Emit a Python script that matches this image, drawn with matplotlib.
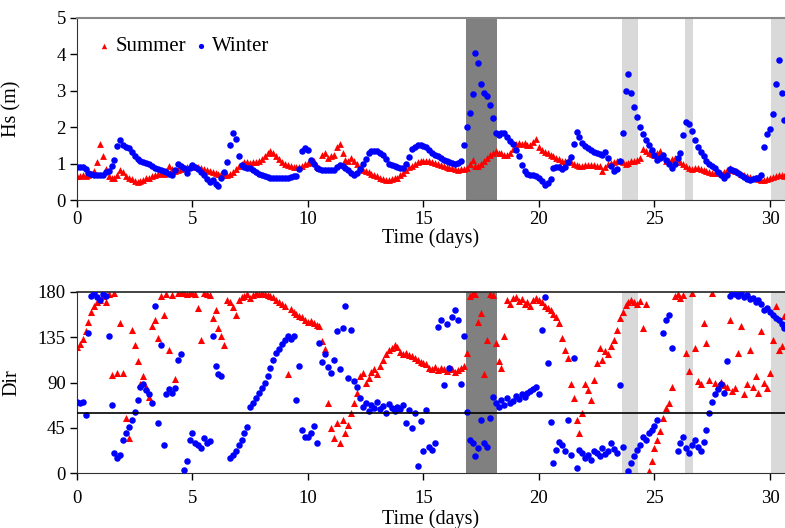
import numpy as np
import matplotlib
matplotlib.use("Agg")
import matplotlib.pyplot as plt

plt.rcParams['font.family'] = ['Liberation Serif', 'DejaVu Serif']

# time step of the readings is 3 hours (0.125 day)
step = 0.125

hs_summer = [
    0.65, 0.65, 0.68, 0.66, 0.70, 0.72, 0.80, 1.05,
    1.55, 1.20, 0.85, 0.65, 0.62, 0.60, 0.70, 0.82,
    0.78, 0.65, 0.60, 0.58, 0.52, 0.50, 0.52, 0.55,
    0.60, 0.62, 0.66, 0.68, 0.72, 0.74, 0.72, 0.80,
    0.95, 0.85, 0.80, 0.82, 0.85, 0.88, 0.92, 0.95,
    0.95, 0.92, 0.90, 0.88, 0.86, 0.83, 0.80, 0.78,
    0.75, 0.72, 0.72, 0.70, 0.70, 0.72, 0.78, 0.85,
    0.95, 1.00, 1.05, 1.05, 1.02, 1.05, 1.05, 1.08,
    1.12, 1.20, 1.28, 1.35, 1.30, 1.22, 1.12, 1.05,
    1.00, 0.97, 0.95, 0.92, 0.92, 0.90, 0.95, 1.00,
    1.02, 1.05, 1.06, 0.95, 0.88, 1.25, 1.30, 1.15,
    1.20, 1.25, 1.45, 1.55, 1.30, 1.10, 1.08, 1.15,
    1.08, 1.00, 0.88, 0.82, 0.80, 0.76, 0.72, 0.68,
    0.65, 0.62, 0.58, 0.55, 0.55, 0.58, 0.60, 0.62,
    0.68, 0.75, 0.82, 0.90, 0.95, 1.00, 1.05, 1.06,
    1.06, 1.06, 1.06, 1.05, 1.02, 0.98, 0.96, 0.93,
    0.92, 0.88, 0.88, 0.85, 0.83, 0.85, 0.86, 0.88,
    1.00, 1.10, 0.95, 0.95, 1.00, 1.06, 1.15, 1.25,
    1.30, 1.34, 1.30, 1.28, 1.25, 1.25, 1.28, 1.40,
    1.55, 1.58, 1.55, 1.58, 1.50, 1.52, 1.60, 1.68,
    1.45, 1.38, 1.32, 1.28, 1.25, 1.20, 1.15, 1.12,
    1.08, 1.06, 1.06, 1.05, 1.00, 0.97, 0.93, 0.95,
    0.96, 0.97, 0.97, 0.96, 0.95, 0.93, 0.80, 0.90,
    1.00, 1.02, 1.04, 1.06, 1.06, 1.04, 1.00, 1.02,
    1.06, 1.08, 1.10, 1.15, 1.40, 1.35, 1.30, 1.26,
    1.25, 1.30, 1.34, 1.20, 1.06, 1.08, 1.12, 1.15,
    1.12, 1.05, 1.00, 0.95, 0.88, 0.86, 0.88, 0.88,
    0.85, 0.83, 0.80, 0.77, 0.74, 0.74, 0.74, 0.74,
    0.76, 0.82, 0.88, 0.84, 0.79, 0.76, 0.72, 0.68,
    0.65, 0.63, 0.61, 0.60, 0.58, 0.56, 0.55, 0.57,
    0.60, 0.63, 0.67, 0.69, 0.68, 0.67,
]

hs_winter = [
    0.90, 0.90, 0.90, 0.85, 0.75, 0.72, 0.70, 0.70,
    0.70, 0.70, 0.76, 0.80, 0.93, 1.10, 1.48, 1.65,
    1.50, 1.45, 1.42, 1.32, 1.22, 1.12, 1.06, 1.04,
    1.02, 1.00, 0.95, 0.88, 0.85, 0.83, 0.80, 0.76,
    0.73, 0.70, 0.82, 1.00, 0.95, 0.87, 0.75, 0.88,
    0.97, 0.92, 0.86, 0.78, 0.70, 0.58, 0.50, 0.55,
    0.45, 0.38, 0.62, 0.78, 1.05, 1.50, 1.85, 1.68,
    1.20, 0.97, 0.90, 0.88, 0.88, 0.84, 0.76, 0.72,
    0.68, 0.65, 0.63, 0.62, 0.60, 0.60, 0.60, 0.60,
    0.60, 0.61, 0.63, 0.65, 0.65, 0.85, 1.35, 1.42,
    1.38, 1.10, 0.98, 0.88, 0.85, 0.83, 0.83, 0.83,
    0.83, 0.84, 0.92, 0.97, 0.93, 0.89, 0.82, 0.75,
    0.69, 0.75, 0.85, 0.98, 1.12, 1.30, 1.34, 1.34,
    1.34, 1.30, 1.25, 1.12, 1.00, 0.97, 0.95, 0.92,
    0.88, 0.88, 1.00, 1.18, 1.40, 1.45, 1.50, 1.50,
    1.48, 1.45, 1.38, 1.30, 1.25, 1.20, 1.15, 1.10,
    1.06, 1.04, 1.02, 1.00, 1.02, 1.06, 1.50, 2.00,
    2.40, 2.90, 4.05, 3.75, 3.20, 2.95, 2.85, 2.60,
    2.25, 1.85, 1.80, 1.84, 1.83, 1.74, 1.62, 1.53,
    1.38, 1.22, 0.97, 0.80, 0.73, 0.70, 0.69, 0.66,
    0.60, 0.52, 0.42, 0.48, 0.58, 0.88, 0.92, 0.90,
    0.85, 0.92, 1.05, 1.18, 1.55, 1.88, 1.72, 1.58,
    1.48, 1.42, 1.38, 1.33, 1.30, 1.27, 1.25, 1.32,
    1.15, 0.95, 0.80, 0.86, 1.06, 1.85, 3.00, 3.45,
    2.95, 2.55, 2.28, 2.00, 1.82, 1.66, 1.50, 1.38,
    1.25, 1.10, 1.15, 1.24, 1.10, 0.98, 0.88, 1.00,
    1.15, 1.30, 1.80, 2.15, 2.10, 1.90, 1.65, 1.45,
    1.32, 1.20, 1.07, 1.00, 0.95, 0.88, 0.78, 0.70,
    0.62, 0.70, 0.86, 0.84, 0.80, 0.75, 0.68, 0.63,
    0.58, 0.55, 0.57, 0.60, 0.62, 0.68, 1.45, 1.82,
    1.94, 2.35, 3.20, 3.85, 2.95, 2.20,
]

nan = np.nan
dir_summer = [
    125, 128, 133, 141, 150, 160, 166, 170,
    172, 176, 170, 178, 97, 179, 99, 149,
    99, 55, 35, 142, 127, 111, 89, 96,
    86, 76, 146, 152, 134, 176, 157, 178,
    122, 177, 94, 179, 179, 179, 178, 179,
    179, 178, 164, 132, 179, 178, 177, 154,
    162, 144, 136, 127, 172, 170, 165, 157,
    172, 175, 176, 178, 174, 177, 179, 178,
    179, 178, 177, 176, 175, 172, 170, 168,
    166, 98, 163, 160, 158, 156, 155, 152,
    150, 151, 149, 147, 146, 131, 123, 70,
    45, 35, 50, 30, 53, 40, 48, 60,
    70, 80, 96, 99, 90, 95, 100, 103,
    98, 106, 112, 118, 122, 124, 127, 125,
    120, 118, 119, 117, 116, 114, 112, 110,
    109, 108, 104, 103, 105, 102, 104, 103,
    101, 104, 103, 100, 102, 104, 106, 119,
    176, 179, 178, 150, 159, 98, 132, 178,
    177, 129, 111, 104, 136, 172, 168, 174,
    175, 171, 173, 168, 170, 166, 172, 174,
    172, 170, 166, 164, 162, 158, 155, 149,
    134, 122, 114, 89, 75, 53, 40, 60,
    89, 83, 73, 93, 109, 124, 112, 121,
    118, 126, 132, 142, 154, 160, 167, 170,
    172, 170, 168, 171, 144, 168, 2, 12,
    25, 33, 42, 55, 65, 70, 86, 176,
    178, 174, 177, 119, 101, 179, 124, 92,
    89, 149, 129, 93, 179, 90, 87, 91,
    88, 86, 152, 82, 85, 119, 146, 79,
    89, 122, 86, 96, 80, 141, 90, 85,
    99, 132, 166, 122, 126, 156,
]

dir_winter = [
    71, 70, 71, 58, 139, 176, 179, 175,
    172, 178, 176, 136, 68, 20, 15, 18,
    33, 40, 46, 53, 61, 73, 86, 89,
    83, 79, 70, 166, 50, 127, 28, 79,
    84, 80, 85, 112, 118, 3, 12, 33,
    40, 30, 28, 25, 35, 30, 32, 136,
    106, 98, 96, nan, nan, 15, 18, 22,
    28, 33, 40, 46, 66, 70, 75, 80,
    85, 90, 96, 104, 112, 119, 123, 128,
    132, 136, 133, 136, 73, 106, 43, 36,
    36, 40, 47, 30, 129, 110, 118, 105,
    99, 112, 141, 103, 144, 166, 95, 142,
    92, 86, 75, 66, 70, 62, 68, 65,
    71, 64, 67, 60, 69, 65, 62, 66,
    64, 68, 50, 63, 45, 60, 7, 52,
    22, 63, 26, 23, 30, 145, 152, 88,
    148, 104, 155, 162, 152, 89, 136, 61,
    33, 30, 17, 25, 53, 30, 26, 55,
    76, 70, 66, 73, 68, 75, 70, 72,
    77, 74, 79, 76, 80, 82, 84, 86,
    79, 142, 175, 109, 51, 10, 23, 31,
    28, 22, 53, 18, 114, 5, 23, 20,
    15, 18, 13, 22, 20, 17, 25, 19,
    22, 30, 24, 20, 88, 26, nan, 2,
    10, 17, 23, 28, 36, 33, 40, 43,
    47, 53, nan, 139, 152, 157, 124, nan,
    22, 30, 36, 25, 20, 28, 33, 26,
    22, 31, 43, 60, 71, 79, 84, 89,
    80, 111, 176, 179, 178, 176, 179, 175,
    177, 173, 174, 170, 172, 168, 162, 164,
    160, 157, 154, 152, 148, 144,
]

storm_dark = (16.85, 18.17)
storm_light = [(23.6, 24.3), (26.32, 26.68), (30.03, 31.0)]

t = np.arange(len(hs_summer)) * step

fig = plt.figure(figsize=(7.85, 5.28), dpi=100)
ax1 = fig.add_axes([0.098, 0.621, 0.902, 0.345])
ax2 = fig.add_axes([0.098, 0.104, 0.902, 0.343])

for ax in (ax1, ax2):
    ax.axvspan(*storm_dark, color='#808080', zorder=0, lw=0)
    for a, b in storm_light:
        ax.axvspan(a, b, color='#d9d9d9', zorder=0, lw=0)

ax1.scatter(t, hs_summer, marker='^', s=24, color='#ff0000', linewidths=0, label='Summer', zorder=2)
ax1.scatter(t, hs_winter, marker='o', s=22, color='#0000ff', linewidths=0, label='Winter', zorder=3)
ax2.scatter(t, dir_summer, marker='^', s=26, color='#ff0000', linewidths=0, zorder=2)
ax2.scatter(t, dir_winter, marker='o', s=22, color='#0000ff', linewidths=0, zorder=3)
ax2.axhline(60, color='black', lw=1.2, zorder=4)

ax1.set_ylim(0, 5)
ax1.set_yticks([0, 1, 2, 3, 4, 5])
ax1.set_ylabel('Hs (m)', fontsize=14.5)
ax2.set_ylim(0, 180)
ax2.set_yticks([0, 45, 90, 135, 180])
ax2.set_ylabel('Dir', fontsize=14.5)

for ax in (ax1, ax2):
    ax.set_xlim(0, 30.65)
    ax.set_xticks([0, 5, 10, 15, 20, 25, 30])
    ax.tick_params(direction='out', length=5, width=1, labelsize=13.5, pad=3)
    ax.yaxis.set_label_coords(-0.078, 0.5)
    ax.spines['right'].set_visible(False)
    ax.spines['left'].set_color('#333333')
    ax.spines['bottom'].set_color('#333333')

ax1.set_xlabel('Time (days)', fontsize=14.5, labelpad=0)
ax2.tick_params(axis='x', pad=7)
ax2.set_xlabel('Time (days)', fontsize=14.5, labelpad=2)

ax1.spines['top'].set_color('#888888')
ax1.spines['top'].set_linewidth(1.5)
ax2.spines['top'].set_color('#222222')
ax2.spines['top'].set_linewidth(1.2)

ax1.legend(loc='upper left', bbox_to_anchor=(0.0, 0.99), ncol=2, frameon=False,
           fontsize=15, handletextpad=0.05, columnspacing=0.2, handlelength=1.0,
           markerscale=0.8, borderaxespad=0.4)

fig.savefig('out.png', dpi=100, facecolor='white')
